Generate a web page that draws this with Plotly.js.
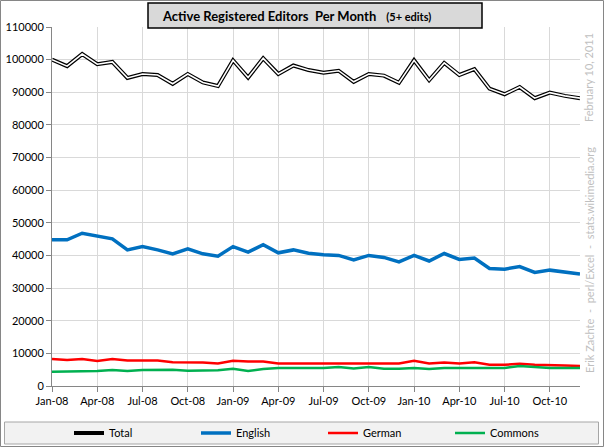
<!DOCTYPE html>
<html><head><meta charset="utf-8">
<script src="https://cdn.plot.ly/plotly-3.0.1.min.js"></script>
<style>html,body{margin:0;padding:0;background:#fff}#chart{width:604px;height:447px}</style>
</head><body><div id="chart"></div>
<script>
const months = ["Jan-08","Feb-08","Mar-08","Apr-08","May-08","Jun-08","Jul-08","Aug-08","Sep-08","Oct-08","Nov-08","Dec-08",
"Jan-09","Feb-09","Mar-09","Apr-09","May-09","Jun-09","Jul-09","Aug-09","Sep-09","Oct-09","Nov-09","Dec-09",
"Jan-10","Feb-10","Mar-10","Apr-10","May-10","Jun-10","Jul-10","Aug-10","Sep-10","Oct-10","Nov-10","Dec-10"];
const tickLabels = ["Jan-08","Apr-08","Jul-08","Oct-08","Jan-09","Apr-09","Jul-09","Oct-09","Jan-10","Apr-10","Jul-10","Oct-10"];
const total = [100000,98000,101700,98600,99300,94400,95600,95300,92600,95600,93000,91900,99800,94500,100400,95600,98200,96800,96000,96600,93200,95600,95100,92900,99800,93700,99000,95300,97100,91100,89400,91600,88200,89900,88900,88200];
const english = [44800,44800,46800,46000,45100,41700,42700,41700,40500,42000,40500,39800,42700,41000,43300,40800,41700,40700,40200,40000,38600,40000,39400,38000,40000,38300,40600,38800,39200,36000,35800,36600,34800,35500,35000,34300];
const german = [8300,8000,8300,7700,8300,7800,7800,7800,7300,7300,7200,6900,7700,7500,7500,6900,6900,6900,6800,6800,6800,6900,6900,6900,7700,6900,7200,6900,7300,6500,6500,6800,6500,6500,6300,6100];
const commons = [4400,4400,4600,4600,4900,4600,4900,5000,5000,4700,4700,4800,5300,4600,5200,5500,5500,5500,5500,5800,5400,5800,5300,5300,5500,5200,5500,5500,5500,5500,5500,6100,5700,5500,5500,5500];
const seriesNames = ["Total","English","German","Commons"];

const L=52, R=24, T=27, B=61, W=604, H=447;
const pw=W-L-R, ph=H-T-B;
const px = v => (v-L)/pw;
const py = v => (H-B-v)/ph;
const font = "Lato, 'Open Sans', sans-serif";

const traces = [
  {x:months,y:total,name:seriesNames[0],mode:"lines",line:{color:"#000000",width:4},legendgroup:"t"},
  {x:months,y:total,name:seriesNames[0],mode:"lines",line:{color:"#ffffff",width:1.6},showlegend:false,legendgroup:"t",hoverinfo:"skip"},
  {x:months,y:english,name:seriesNames[1],mode:"lines",line:{color:"#0070c0",width:3.5}},
  {x:months,y:german,name:seriesNames[2],mode:"lines",line:{color:"#ff0000",width:2.5}},
  {x:months,y:commons,name:seriesNames[3],mode:"lines",line:{color:"#00b050",width:2.5}}
];

const layout = {
  width:W,height:H,
  margin:{l:L,r:R,t:T,b:B,pad:0,autoexpand:false},
  paper_bgcolor:"#ffffff",plot_bgcolor:"#ffffff",
  font:{family:font,size:11,color:"#000000"},
  showlegend:true,
  legend:{orientation:"h",x:px(69),xanchor:"left",y:py(433),yanchor:"middle",
    bgcolor:"rgba(0,0,0,0)",borderwidth:0,font:{family:font,size:11,color:"#000"},
    entrywidth:82,entrywidthmode:"pixels",itemwidth:30,traceorder:"normal"},
  xaxis:{type:"category",categoryorder:"array",categoryarray:months,range:[0,35],
    tickmode:"array",tickvals:tickLabels,ticktext:tickLabels,
    showgrid:true,gridcolor:"#d9d9d9",gridwidth:1,
    showline:true,linecolor:"#868686",linewidth:1,
    ticks:"outside",ticklen:5,tickcolor:"#868686",
    tickfont:{family:font,size:11,color:"#000"},zeroline:false,fixedrange:true,automargin:false},
  yaxis:{range:[0,110000],dtick:10000,tick0:0,tickformat:"d",
    showgrid:true,gridcolor:"#d9d9d9",gridwidth:1,
    showline:true,linecolor:"#868686",linewidth:1,
    ticks:"outside",ticklen:5,tickcolor:"#868686",
    tickfont:{family:font,size:11,color:"#000"},zeroline:false,fixedrange:true,automargin:false},
  shapes:[
    {type:"rect",xref:"paper",yref:"paper",x0:px(0.5),x1:px(603.5),y0:py(0.5),y1:py(446.5),line:{color:"#868686",width:1},fillcolor:"rgba(0,0,0,0)",layer:"below"},
    {type:"rect",xref:"paper",yref:"paper",x0:px(4.5),x1:px(598.5),y0:py(422),y1:py(444),line:{color:"#a6a6a6",width:1},fillcolor:"#f2f2f2",layer:"below"},
    {type:"rect",xref:"paper",yref:"paper",x0:px(148),x1:px(482),y0:py(3),y1:py(28),line:{color:"#000000",width:1.5},fillcolor:"#d9d9d9",layer:"above"}
  ],
  annotations:[
    {xref:"paper",yref:"paper",x:px(160),y:py(15.5),xanchor:"left",yanchor:"middle",showarrow:false,
     text:"<b>Active Registered Editors  Per Month</b>   <b><span style='font-size:11px'>(5+ edits)</span></b>",
     font:{family:font,size:13,color:"#000"}},
    {xref:"paper",yref:"paper",x:px(589),y:py(78),xanchor:"center",yanchor:"middle",showarrow:false,textangle:-90,
     text:"February 10, 2011",font:{family:font,size:11,color:"#bfbfbf"}},
    {xref:"paper",yref:"paper",x:px(589),y:py(260),xanchor:"center",yanchor:"middle",showarrow:false,textangle:-90,
     text:"Erik Zachte  -  perl/Excel  -  stats.wikimedia.org",font:{family:font,size:11,color:"#bfbfbf"}}
  ]
};
Plotly.newPlot("chart",traces,layout,{staticPlot:true,displayModeBar:false});
</script></body></html>
